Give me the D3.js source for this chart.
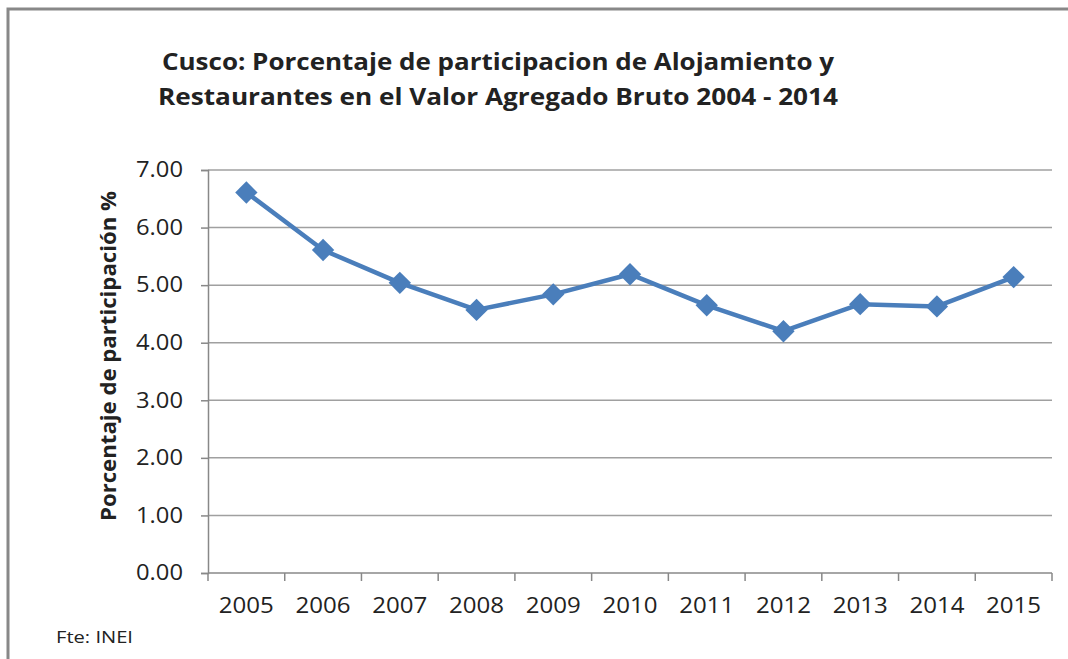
<!DOCTYPE html>
<html>
<head>
<meta charset="utf-8">
<script src="https://cdn.jsdelivr.net/npm/d3@7"></script>
<style>
  body { margin: 0; background: #fff; }
  text { font-family: "Open Sans", "DejaVu Sans", sans-serif; fill: #222; }
</style>
</head>
<body>
<svg id="chart" width="1068" height="659"></svg>
<script>
const years = ["2005", "2006", "2007", "2008", "2009", "2010", "2011", "2012", "2013", "2014", "2015"];
const values = [6.61, 5.61, 5.04, 4.57, 4.84, 5.19, 4.65, 4.20, 4.67, 4.63, 5.14];
const yTicks = [0, 1, 2, 3, 4, 5, 6, 7];
const titleLines = ["Cusco: Porcentaje de participacion de Alojamiento y", "Restaurantes en el Valor Agregado Bruto 2004 - 2014"];

const svg = d3.select("#chart");
const plotLeft = 208, plotRight = 1052, plotTop = 170, plotBottom = 573;

// frame (left + top edges only, as in the source)
svg.append("path")
  .attr("d", "M8,659 L8,9 L1068,9")
  .attr("fill", "none")
  .attr("stroke", "#888")
  .attr("stroke-width", 3);

const x = d3.scaleBand().domain(years).range([plotLeft, plotRight]);
const y = d3.scaleLinear().domain([0, 7]).range([plotBottom, plotTop]);

// gridlines
svg.append("g").selectAll("line")
  .data(yTicks.filter(d => d > 0))
  .enter().append("line")
  .attr("x1", plotLeft).attr("x2", plotRight)
  .attr("y1", d => y(d)).attr("y2", d => y(d))
  .attr("stroke", "#a0a0a0")
  .attr("stroke-width", 1.5);

// y axis
const yAxis = svg.append("g")
  .attr("transform", `translate(${plotLeft},0)`)
  .call(d3.axisLeft(y).tickValues(yTicks).tickFormat(d3.format(".2f")).tickSize(7).tickPadding(18));
yAxis.select(".domain").attr("stroke", "#888").attr("stroke-width", 1.5);
yAxis.selectAll(".tick line").attr("stroke", "#888").attr("stroke-width", 1.5);
yAxis.selectAll(".tick text")
  .attr("font-size", 21)
  .attr("font-family", "Open Sans, sans-serif")
  .attr("fill", "#222")
  .attr("textLength", 47)
  .attr("lengthAdjust", "spacingAndGlyphs");

// x axis with ticks at category boundaries
const xAxis = svg.append("g").attr("transform", `translate(0,${plotBottom})`);
xAxis.append("line")
  .attr("x1", plotLeft).attr("x2", plotRight)
  .attr("stroke", "#888").attr("stroke-width", 1.5);
const bounds = years.map(d => x(d)).concat([plotRight]);
xAxis.selectAll(".bt")
  .data(bounds)
  .enter().append("line")
  .attr("x1", d => d).attr("x2", d => d)
  .attr("y1", 0).attr("y2", 8)
  .attr("stroke", "#888").attr("stroke-width", 1.5);
xAxis.selectAll(".lbl")
  .data(years)
  .enter().append("text")
  .attr("x", d => x(d) + x.bandwidth() / 2)
  .attr("y", 40)
  .attr("text-anchor", "middle")
  .attr("font-size", 21)
  .attr("textLength", 55)
  .attr("lengthAdjust", "spacingAndGlyphs")
  .text(d => d);

// title
svg.append("g").selectAll("text")
  .data(titleLines)
  .enter().append("text")
  .attr("x", 498)
  .attr("y", (d, i) => 70 + i * 35)
  .attr("text-anchor", "middle")
  .attr("font-size", 24)
  .attr("font-weight", "bold")
  .attr("textLength", (d, i) => i === 0 ? 672 : 680)
  .attr("lengthAdjust", "spacingAndGlyphs")
  .text(d => d);

// y axis title
svg.append("text")
  .attr("transform", "translate(116,356) rotate(-90)")
  .attr("text-anchor", "middle")
  .attr("font-size", 21)
  .attr("font-weight", "bold")
  .attr("textLength", 330)
  .attr("lengthAdjust", "spacingAndGlyphs")
  .text("Porcentaje de participación %");

// line series
const series = years.map((d, i) => ({ year: d, value: values[i] }));
const cx = d => x(d.year) + x.bandwidth() / 2;

svg.append("path")
  .datum(series)
  .attr("fill", "none")
  .attr("stroke", "#4a7ebb")
  .attr("stroke-width", 4.5)
  .attr("stroke-linejoin", "round")
  .attr("d", d3.line().x(cx).y(d => y(d.value)));

svg.append("g").selectAll("path")
  .data(series)
  .enter().append("path")
  .attr("transform", d => `translate(${cx(d)},${y(d.value)}) rotate(45)`)
  .attr("d", d3.symbol().type(d3.symbolSquare).size(250))
  .attr("fill", "#4a7ebb");

// source note
svg.append("text")
  .attr("x", 56)
  .attr("y", 643)
  .attr("font-size", 17)
  .attr("textLength", 77)
  .attr("lengthAdjust", "spacingAndGlyphs")
  .text("Fte: INEI");
</script>
</body>
</html>
